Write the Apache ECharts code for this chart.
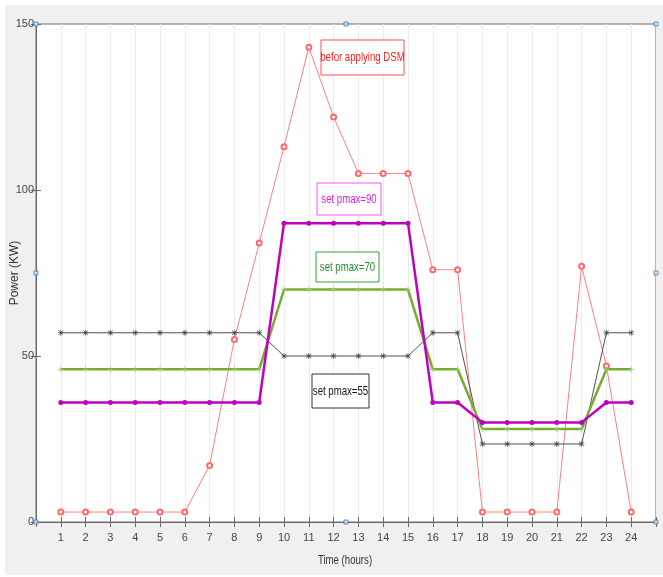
<!DOCTYPE html>
<html>
<head>
<meta charset="utf-8">
<script src="https://cdn.jsdelivr.net/npm/echarts@6/dist/echarts.min.js"></script>
<style>
html,body{margin:0;padding:0;background:#fff;}
#bg{position:absolute;left:5px;top:5px;width:658px;height:570px;background:#f0f0f0;}
#chart{position:absolute;left:0;top:0;width:663px;height:577px;}
</style>
</head>
<body>
<div id="bg"></div>
<div id="chart"></div>
<script>
const hours = [1,2,3,4,5,6,7,8,9,10,11,12,13,14,15,16,17,18,19,20,21,22,23,24];
const beforeDSM = [3,3,3,3,3,3,17,55,84,113,143,122,105,105,105,76,76,3,3,3,3,77,47,3];
const pmax90 = [36,36,36,36,36,36,36,36,36,90,90,90,90,90,90,36,36,30,30,30,30,30,36,36];
const pmax70 = [46,46,46,46,46,46,46,46,46,70,70,70,70,70,70,46,46,28,28,28,28,28,46,46];
const pmax55 = [57,57,57,57,57,57,57,57,57,50,50,50,50,50,50,57,57,23.5,23.5,23.5,23.5,23.5,57,57];
const yTicks = [0,50,100,150];
const handles = [[0,0],[12.5,0],[25,0],[0,75],[25,75],[0,150],[12.5,150],[25,150]];

const font = '"Liberation Sans", Arial, sans-serif';
const pair = arr => hours.map((h,i)=>[h,arr[i]]);
const plusSym = 'path://M4.4,0h1.2v10h-1.2z M0,4.4h10v1.2h-10z';
const starSym = 'path://M4.5,0h1v10h-1z M0,4.5h10v1h-10z M0.9,1.6L1.6,0.9L9.1,8.4L8.4,9.1z M8.4,0.9L9.1,1.6L1.6,9.1L0.9,8.4z';

const chart = echarts.init(document.getElementById('chart'), null, {renderer:'canvas'});
const axisCol = '#6a6a6a';
const sx = 0.74;
function label(x,y,text,color,extra){
  return Object.assign({type:'text',x:x,y:y,scaleX:sx,
    style:{text:text,fill:color,font:'13px '+font,align:'center',verticalAlign:'middle'},z:21},extra||{});
}
chart.setOption({
  animation:false,
  backgroundColor:'transparent',
  grid:{left:36,right:7,top:24,bottom:55,outerBoundsMode:'none',containLabel:false,
    show:true,backgroundColor:'#ffffff',borderColor:axisCol,borderWidth:1},
  xAxis:[{
    type:'value',min:0,max:25,interval:1,position:'bottom',
    axisLine:{show:true,lineStyle:{color:axisCol}},
    axisTick:{show:true,inside:true,length:5,lineStyle:{color:axisCol}},
    axisLabel:{fontFamily:font,fontSize:11,color:'#444',margin:10,
      formatter:v=>(v>=1&&v<=24)?String(v):''},
    splitLine:{show:true,lineStyle:{color:'#ececec',width:1}}
  },{
    type:'value',min:0,max:25,interval:1,position:'top',
    axisLine:{show:true,lineStyle:{color:axisCol}},
    axisTick:{show:true,inside:true,length:5,lineStyle:{color:axisCol}},
    axisLabel:{show:false},splitLine:{show:false}
  }],
  yAxis:[{
    type:'value',min:0,max:150,interval:50,position:'left',
    axisLine:{show:true,lineStyle:{color:axisCol}},
    axisTick:{show:true,inside:true,length:5,lineStyle:{color:axisCol}},
    axisLabel:{fontFamily:font,fontSize:11,color:'#444',margin:2,
      formatter:v=>yTicks.includes(v)?String(v):''},
    splitLine:{show:false}
  },{
    type:'value',min:0,max:150,interval:50,position:'right',
    axisLine:{show:true,lineStyle:{color:axisCol}},
    axisTick:{show:true,inside:true,length:5,lineStyle:{color:axisCol}},
    axisLabel:{show:false},splitLine:{show:false}
  }],
  series:[
    {name:'befor applying DSM',type:'line',data:pair(beforeDSM),symbol:'emptyCircle',symbolSize:5,
     lineStyle:{color:'#ff8080',width:1},itemStyle:{color:'#ff6a6a',borderWidth:1},z:3},
    {name:'set pmax=55',type:'line',data:pair(pmax55),symbol:starSym,symbolSize:6,
     lineStyle:{color:'#505050',width:1},itemStyle:{color:'#444'},z:4},
    {name:'set pmax=70',type:'line',data:pair(pmax70),symbol:plusSym,symbolSize:6,
     lineStyle:{color:'#77ac30',width:2.5},itemStyle:{color:'#9ccc70'},z:5},
    {name:'set pmax=90',type:'line',data:pair(pmax90),symbol:'circle',symbolSize:5,
     lineStyle:{color:'#bf00bf',width:2.5},itemStyle:{color:'#bf00bf'},z:6},
    {name:'handles',type:'scatter',data:handles,symbol:'rect',symbolSize:4,silent:true,
     itemStyle:{color:'#cfe3f5',borderColor:'#3c7fc0',borderWidth:1},z:10}
  ],
  graphic:[
    label(345,560,'Time (hours)','#333'),
    label(15,273,'Power (KW)','#333',{rotation:Math.PI/2,scaleX:1,style:{text:'Power (KW)',fill:'#333',font:'12px '+font,align:'center',verticalAlign:'middle'}}),
    {type:'rect',shape:{x:321,y:40,width:83,height:35},style:{fill:'#fff',stroke:'#ff5050',lineWidth:1},z:20},
    label(362.5,57.5,'befor applying DSM','#ff2020'),
    {type:'rect',shape:{x:317,y:183,width:64,height:32},style:{fill:'#fff',stroke:'#ff50ff',lineWidth:1},z:20},
    label(349,199,'set pmax=90','#e020e0'),
    {type:'rect',shape:{x:316,y:252,width:63,height:30},style:{fill:'#fff',stroke:'#30a030',lineWidth:1},z:20},
    label(347.5,267,'set pmax=70','#209020'),
    {type:'rect',shape:{x:312,y:374,width:57,height:34},style:{fill:'#fff',stroke:'#333',lineWidth:1},z:20},
    label(340.5,391,'set pmax=55','#111')
  ]
});
</script>
</body>
</html>
